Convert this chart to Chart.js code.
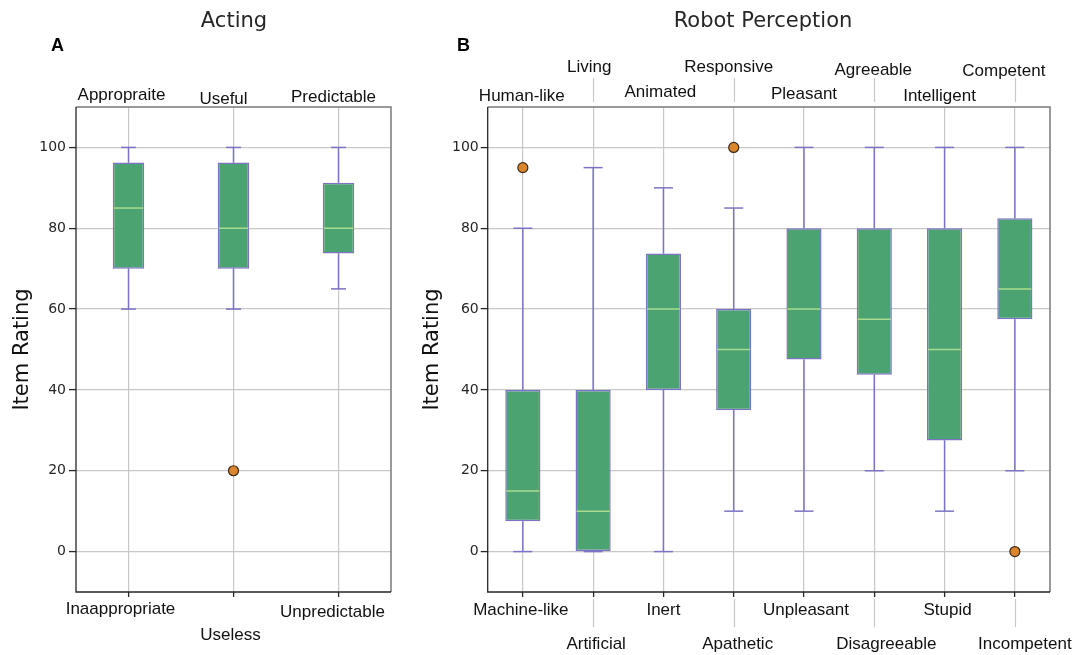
<!DOCTYPE html>
<html>
<head>
<meta charset="utf-8">
<title>Acting / Robot Perception</title>
<script src="https://cdn.jsdelivr.net/npm/chart.js@4.4.1/dist/chart.umd.min.js"></script>
<style>
  html, body { margin: 0; padding: 0; background: #ffffff; }
  #wrap { position: relative; width: 1078px; height: 655px; overflow: hidden; }
  canvas { position: absolute; top: 0; }
  #chartActing { left: 0; }
  #chartPerception { left: 420px; }
</style>
</head>
<body>
<div id="wrap">
  <canvas id="chartActing" width="420" height="655"></canvas>
  <canvas id="chartPerception" width="658" height="655"></canvas>
</div>
<script>
// ---- Panel A: Acting ----
const actingTop = ['Appropraite', 'Useful', 'Predictable'];
const actingBottom = ['Inaappropriate', 'Useless', 'Unpredictable'];
const actingLow = [60, 60, 65];
const actingQ1 = [70, 70, 73.75];
const actingMedian = [85, 80, 80];
const actingQ3 = [96.25, 96.25, 91.25];
const actingHigh = [100, 100, 100];
const actingOutliers = [null, 20, null];

// ---- Panel B: Robot Perception ----
const perceptionTop = ['Human-like', 'Living', 'Animated', 'Responsive', 'Pleasant', 'Agreeable', 'Intelligent', 'Competent'];
const perceptionBottom = ['Machine-like', 'Artificial', 'Inert', 'Apathetic', 'Unpleasant', 'Disagreeable', 'Stupid', 'Incompetent'];
const perceptionLow = [0, 0, 0, 10, 10, 20, 10, 20];
const perceptionQ1 = [7.5, 0, 40, 35, 47.5, 43.75, 27.5, 57.5];
const perceptionMedian = [15, 10, 60, 50, 60, 57.5, 50, 65];
const perceptionQ3 = [40, 40, 73.75, 60, 80, 80, 80, 82.5];
const perceptionHigh = [80, 95, 90, 85, 100, 100, 100, 100];
const perceptionOutliers = [95, null, null, 100, null, null, null, 0];

// Shared rating axis
const ratingTicks = [0, 20, 40, 60, 80, 100];
const ratingMin = -10;
const ratingMax = 110;

// ---- Styling ----
const BOX_FILL = '#4ba372';
const BOX_EDGE = '#7b73c4';
const MEDIAN_COLOR = '#a9dc8e';
const FLIER_FILL = '#db852c';
const FLIER_EDGE = '#3b2a18';
const GRID_COLOR = '#c8c8c8';
const INK = '#262626';
const LABEL_FONT = '17px "Liberation Sans", Arial, sans-serif';

// Whiskers, caps and medians drawn on top of the floating-bar boxes
const whiskerPlugin = {
  id: 'whiskers',
  beforeDatasetsDraw(chart, args, opts) {
    const { ctx, scales: { x, y } } = chart;
    ctx.save();
    ctx.strokeStyle = opts.color;
    ctx.lineWidth = opts.lineWidth;
    const seg = (x0, y0, x1, y1) => { ctx.beginPath(); ctx.moveTo(x0, y0); ctx.lineTo(x1, y1); ctx.stroke(); };
    opts.low.forEach((lo, i) => {
      const px = x.getPixelForValue(i);
      const hw = opts.capWidth / 2;
      seg(px, y.getPixelForValue(lo), px, y.getPixelForValue(opts.q1[i]));
      seg(px, y.getPixelForValue(opts.q3[i]), px, y.getPixelForValue(opts.high[i]));
      seg(px - hw, y.getPixelForValue(lo), px + hw, y.getPixelForValue(lo));
      seg(px - hw, y.getPixelForValue(opts.high[i]), px + hw, y.getPixelForValue(opts.high[i]));
    });
    ctx.restore();
  },
  afterDatasetDraw(chart, args, opts) {
    if (args.index !== 0) return;
    const { ctx, scales: { y } } = chart;
    const meta = chart.getDatasetMeta(0);
    ctx.save();
    ctx.strokeStyle = opts.medianColor;
    ctx.lineWidth = opts.medianWidth;
    meta.data.forEach((bar, i) => {
      const py = y.getPixelForValue(opts.median[i]);
      const hw = bar.width / 2 - 1;
      ctx.beginPath();
      ctx.moveTo(bar.x - hw, py);
      ctx.lineTo(bar.x + hw, py);
      ctx.stroke();
    });
    ctx.restore();
  }
};

// Pole labels above and below the plot, plus frame and titles
const decorPlugin = {
  id: 'decor',
  afterDraw(chart, args, opts) {
    const { ctx, chartArea: ca, scales: { x } } = chart;
    ctx.save();

    // leader lines for the staggered labels
    ctx.strokeStyle = GRID_COLOR;
    ctx.lineWidth = 1.2;
    (opts.leaders || []).forEach(l => {
      l.indices.forEach(i => {
        const px = Math.round(x.getPixelForValue(i)) + 0.5;
        ctx.beginPath(); ctx.moveTo(px, l.y0); ctx.lineTo(px, l.y1); ctx.stroke();
      });
    });

    // frame
    ctx.lineWidth = 1.5;
    ctx.strokeStyle = '#7a7a7a';
    ctx.beginPath();
    ctx.moveTo(ca.left, ca.top); ctx.lineTo(ca.right, ca.top); ctx.lineTo(ca.right, ca.bottom);
    ctx.stroke();
    ctx.strokeStyle = INK;
    ctx.lineWidth = 1.3;
    ctx.beginPath();
    ctx.moveTo(ca.left, ca.top); ctx.lineTo(ca.left, ca.bottom); ctx.lineTo(ca.right, ca.bottom);
    ctx.stroke();

    // pole labels
    ctx.fillStyle = '#111111';
    ctx.font = LABEL_FONT;
    ctx.textAlign = 'center';
    ctx.textBaseline = 'alphabetic';
    opts.rows.forEach(row => {
      row.text.forEach((t, i) => {
        ctx.fillText(t, x.getPixelForValue(i) + row.dx[i], row.base[i]);
      });
    });

    // panel title and letter
    ctx.fillStyle = INK;
    ctx.font = opts.titleFont;
    ctx.fillText(opts.title, opts.titleX, opts.titleY);
    ctx.fillStyle = '#000000';
    ctx.textAlign = 'left';
    ctx.font = 'bold 18px "Liberation Sans", Arial, sans-serif';
    ctx.fillText(opts.letter, opts.letterX, opts.letterY);
    ctx.restore();
  }
};

function buildChart(canvasId, cfg) {
  return new Chart(document.getElementById(canvasId), {
    data: {
      labels: cfg.bottom,
      datasets: [
        {
          type: 'bar',
          data: cfg.q1.map((q, i) => [q, cfg.q3[i]]),
          backgroundColor: BOX_FILL,
          borderColor: BOX_EDGE,
          borderWidth: 1.5,
          borderSkipped: false,
          barPercentage: cfg.barPercentage,
          categoryPercentage: 1.0,
          order: 2
        },
        {
          type: 'line',
          data: cfg.outliers,
          showLine: false,
          pointRadius: 5,
          pointHoverRadius: 5,
          pointBackgroundColor: FLIER_FILL,
          pointBorderColor: FLIER_EDGE,
          pointBorderWidth: 1.2,
          order: 1
        }
      ]
    },
    options: {
      responsive: false,
      animation: false,
      devicePixelRatio: 1,
      layout: { padding: { left: 0, top: 107, right: cfg.padRight, bottom: 63 } },
      scales: {
        x: {
          type: 'category',
          offset: true,
          grid: {
            offset: false,
            color: GRID_COLOR,
            lineWidth: 1.2,
            drawTicks: true,
            tickLength: 5,
            tickColor: INK,
            tickWidth: 1.3
          },
          border: { display: false },
          ticks: { display: false },
          afterFit(scale) { scale.height = 0; }
        },
        y: {
          type: 'linear',
          min: ratingMin,
          max: ratingMax,
          afterBuildTicks(scale) { scale.ticks = ratingTicks.map(v => ({ value: v })); },
          afterFit(scale) { scale.width = cfg.axisWidth; },
          grid: {
            color: GRID_COLOR,
            lineWidth: 1.2,
            tickLength: 7,
            tickColor: INK,
            tickWidth: 1.3
          },
          border: { display: false },
          ticks: {
            color: INK,
            padding: cfg.tickPad,
            font: { family: '"DejaVu Sans", sans-serif', size: 14 }
          },
          title: {
            display: true,
            text: 'Item Rating',
            color: '#111111',
            padding: { top: cfg.titlePad, bottom: 0 },
            font: { family: '"DejaVu Sans", sans-serif', size: 21 }
          }
        }
      },
      plugins: {
        legend: { display: false },
        tooltip: { enabled: false },
        whiskers: {
          low: cfg.low, q1: cfg.q1, median: cfg.median, q3: cfg.q3, high: cfg.high,
          capWidth: cfg.capWidth, color: BOX_EDGE, lineWidth: 1.5,
          medianColor: MEDIAN_COLOR, medianWidth: 1.5
        },
        decor: cfg.decor
      }
    },
    plugins: [whiskerPlugin, decorPlugin]
  });
}

buildChart('chartActing', {
  bottom: actingBottom,
  low: actingLow, q1: actingQ1, median: actingMedian, q3: actingQ3, high: actingHigh,
  outliers: actingOutliers,
  barPercentage: 0.3,
  capWidth: 15,
  padRight: 29,
  axisWidth: 76,
  tickPad: 3,
  titlePad: 10,
  decor: {
    rows: [
      { text: actingTop, dx: [-7, -10, -5], base: [99.5, 103.5, 101.5] },
      { text: actingBottom, dx: [-8, -3, -6], base: [614, 640, 617] }
    ],
    leaders: [],
    title: 'Acting',
    titleFont: '21px "DejaVu Sans", sans-serif',
    titleX: 234, titleY: 27,
    letter: 'A', letterX: 51, letterY: 51
  }
});

buildChart('chartPerception', {
  bottom: perceptionBottom,
  low: perceptionLow, q1: perceptionQ1, median: perceptionMedian, q3: perceptionQ3, high: perceptionHigh,
  outliers: perceptionOutliers,
  barPercentage: 0.5,
  capWidth: 19,
  padRight: 28,
  axisWidth: 67.7,
  tickPad: 2,
  titlePad: 0,
  decor: {
    rows: [
      { text: perceptionTop, dx: [-1, -4, -3, -5, 0, -1, -5, -11], base: [101, 72, 97, 72, 99, 75, 101, 76] },
      { text: perceptionBottom, dx: [-2, 3, 0, 4, 2, 12, 3, 10], base: [615, 649, 615, 649, 615, 649, 615, 649] }
    ],
    leaders: [
      { indices: [1, 3, 5, 7], y0: 78, y1: 102 },
      { indices: [1, 3, 5, 7], y0: 599, y1: 627 }
    ],
    title: 'Robot Perception',
    titleFont: '21px "DejaVu Sans", sans-serif',
    titleX: 343, titleY: 27,
    letter: 'B', letterX: 37, letterY: 51
  }
});
</script>
</body>
</html>
